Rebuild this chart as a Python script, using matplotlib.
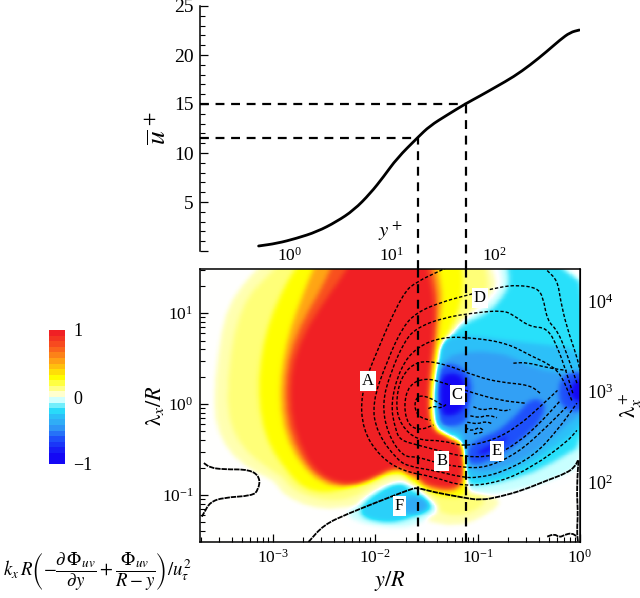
import numpy as np
import matplotlib
matplotlib.use('Agg')
import matplotlib.pyplot as plt
from matplotlib.path import Path
from matplotlib.patches import PathPatch
from matplotlib.colors import LinearSegmentedColormap, Normalize
from matplotlib.cm import ScalarMappable
from matplotlib.ticker import MultipleLocator

plt.rcParams['font.family'] = ['Liberation Serif', 'DejaVu Serif']
plt.rcParams['mathtext.fontset'] = 'stix'

RE_X = 10 ** 2.836   # y+ = y/R * RE_X
RE_L = 10 ** 2.865   # lambda+ = lambda/R * RE_L

# mean velocity profile, log10(y+) and u+
logyp = [-0.30, -0.12, 0.07, 0.27, 0.46, 0.63, 0.79, 0.92, 1.05, 1.254, 1.37, 1.54, 1.72, 1.86, 2.02, 2.19, 2.35, 2.51, 2.64, 2.74, 2.83]
uplus = [0.51, 0.78, 1.29, 1.97, 2.99, 4.18, 5.88, 7.59, 9.46, 11.6, 12.76, 13.88, 15.03, 15.82, 16.77, 17.79, 18.98, 20.34, 21.53, 22.31, 22.55]

# the two marked wall distances
mark_yp = [18.0, 52.7]
mark_u = [11.5, 15.0]

# flood levels, all as (log10(y/R), log10(lambda/R))
pos_05 = [(-3.05, 1.6), (-3.14, 1.49), (-3.31, 1.29), (-3.46, 1.00), (-3.53, .56), (-3.57, .01), (-3.53, -.32), (-3.38, -.58), (-3.15, -.76), (-2.97, -.84), (-2.92, -.97), (-2.70, -1.11), (-2.44, -1.16), (-2.21, -1.11), (-1.75, -1.17), (-1.43, -1.31), (-1.17, -1.34), (-.95, -1.24), (-.75, -1.08), (-.88, -1.01), (-1.10, -.95), (-1.14, -.73), (-1.14, -.51), (-1.36, -.34), (-1.44, -.07), (-1.43, .30), (-1.36, .59), (-1.20, .92), (-.91, 1.14), (-.81, 1.33), (-.88, 1.49), (-.85, 1.6)]
pos_15 = [(-2.9, 1.6), (-2.97, 1.49), (-3.20, 1.25), (-3.33, .98), (-3.41, .56), (-3.45, .01), (-3.39, -.29), (-3.27, -.51), (-3.04, -.71), (-2.89, -.81), (-2.83, -.92), (-2.63, -1.03), (-2.39, -1.07), (-2.19, -1.02), (-2.03, -.90), (-1.85, -.79), (-1.71, -.79), (-1.61, -.91), (-1.46, -1.11), (-1.36, -1.20), (-1.17, -1.24), (-.99, -1.15), (-.90, -1.06), (-1.07, -.95), (-1.14, -.73), (-1.15, -.51), (-1.36, -.36), (-1.43, -.07), (-1.42, .30), (-1.35, .59), (-1.19, .90), (-.97, 1.11), (-.88, 1.31), (-.93, 1.49), (-.9, 1.6)]
pos_30 = [(-2.7, 1.6), (-2.78, 1.49), (-2.92, 1.22), (-3.05, .85), (-3.12, .48), (-3.14, .12), (-3.10, -.25), (-2.99, -.54), (-2.86, -.73), (-2.73, -.91), (-2.53, -.98), (-2.34, -.95), (-2.08, -.87), (-1.88, -.76), (-1.73, -.76), (-1.66, -.84), (-1.59, -.87), (-1.43, -1.00), (-1.30, -1.03), (-1.12, -1.02), (-1.10, -.91), (-1.12, -.47), (-1.27, -.36), (-1.43, -.29), (-1.45, -.07), (-1.43, .30), (-1.38, .56), (-1.27, .81), (-1.17, 1.07), (-1.14, 1.29), (-1.15, 1.49), (-1.15, 1.6)]
pos_55 = [(-2.55, 1.6), (-2.60, 1.49), (-2.70, 1.22), (-2.82, .85), (-2.90, .48), (-2.93, .12), (-2.90, -.25), (-2.78, -.58), (-2.58, -.84), (-2.34, -.93), (-2.08, -.86), (-1.88, -.75), (-1.73, -.73), (-1.66, -.80), (-1.63, -.80), (-1.53, -.91), (-1.34, -.97), (-1.14, -.95), (-1.12, -.47), (-1.20, -.37), (-1.43, -.31), (-1.46, -.07), (-1.44, .30), (-1.41, .56), (-1.36, .96), (-1.34, 1.22), (-1.39, 1.49), (-1.38, 1.6)]
pos_80 = [(-2.40, 1.6), (-2.43, 1.49), (-2.55, 1.22), (-2.74, .85), (-2.85, .48), (-2.88, .12), (-2.85, -.25), (-2.72, -.60), (-2.54, -.82), (-2.30, -.91), (-2.06, -.85), (-1.87, -.72), (-1.73, -.71), (-1.67, -.78), (-1.60, -.78), (-1.53, -.89), (-1.34, -.95), (-1.16, -.93), (-1.13, -.80), (-1.13, -.52), (-1.19, -.39), (-1.43, -.31), (-1.47, -.10), (-1.47, .2), (-1.45, .45), (-1.42, .80), (-1.39, 1.1), (-1.41, 1.3), (-1.44, 1.49), (-1.44, 1.6)]
pos_100 = [(-2.23, 1.6), (-2.27, 1.49), (-2.44, 1.22), (-2.66, .85), (-2.80, .48), (-2.83, .12), (-2.80, -.25), (-2.66, -.62), (-2.50, -.81), (-2.27, -.89), (-2.05, -.84), (-1.85, -.70), (-1.73, -.69), (-1.68, -.76), (-1.59, -.76), (-1.53, -.86), (-1.34, -.92), (-1.20, -.91), (-1.15, -.80), (-1.14, -.58), (-1.19, -.42), (-1.43, -.32), (-1.48, -.14), (-1.48, .12), (-1.46, .37), (-1.43, .63), (-1.41, .92), (-1.43, 1.22), (-1.49, 1.49), (-1.49, 1.6)]

neg_05 = [(-.78, 1.6), (.1, 1.6), (.1, -.62), (-.19, -.80), (-.46, -.91), (-.78, -.98), (-1.04, -1.00), (-1.10, -.95), (-1.12, -.84), (-1.12, -.47), (-1.15, -.36), (-1.43, -.32), (-1.45, -.07), (-1.43, .30), (-1.36, .59), (-1.20, .90), (-.95, 1.03), (-.78, 1.25), (-.75, 1.36), (-.78, 1.49)]
neg_20 = [(-.68, 1.6), (.1, 1.6), (.1, -.40), (-.17, -.58), (-.46, -.76), (-.78, -.86), (-1.04, -.91), (-1.11, -.86), (-1.11, -.58), (-1.14, -.42), (-1.39, -.32), (-1.43, -.07), (-1.41, .30), (-1.35, .59), (-1.19, .87), (-.91, .98), (-.75, 1.18), (-.68, 1.33), (-.71, 1.49)]
neg_30 = [(-1.35, .74), (-1.10, .76), (-.71, .70), (-.32, .65), (.1, .6), (.1, -.2), (-.22, -.45), (-.49, -.66), (-.81, -.82), (-1.10, -.85), (-1.14, -.6), (-1.14, -.31), (-1.41, -.27), (-1.41, .12), (-1.39, .48)]
neg_45 = [(-1.36, .48), (-1.14, .59), (-.71, .56), (-.49, .41), (-.22, .34), (.1, .37), (.1, -.1), (0, -.10), (-.22, -.32), (-.49, -.58), (-.81, -.73), (-1.10, -.76), (-1.14, -.40), (-1.14, -.29), (-1.36, -.29), (-1.41, .12)]
neg_65_c = [(-1.38, .41), (-1.27, .46), (-1.10, .37), (-1.04, .19), (-1.10, -.07), (-1.10, -.21), (-1.30, -.26), (-1.39, -.21), (-1.39, .15)]
neg_65_e = [(-1.10, -.47), (-.95, -.36), (-.78, -.29), (-.58, -.07), (-.46, .08), (-.32, .01), (-.39, -.21), (-.61, -.43), (-.85, -.62), (-1.10, -.69)]
neg_65_r = [(-.17, .34), (.1, .4), (.1, -.1), (-.17, -.07), (-.22, .12)]
neg_90_c = [(-1.34, .34), (-1.14, .34), (-1.10, .08), (-1.15, -.10), (-1.34, -.15), (-1.37, .01), (-1.37, .19)]
neg_90_e = [(-1.04, -.54), (-.81, -.43), (-.68, -.32), (-.75, -.43), (-.93, -.56)]
neg_90_r = [(-.10, .19), (-.02, .29), (.1, .25), (.1, 0), (-.10, .04)]

f_05 = [(-2.29, -1.22), (-2.14, -1.31), (-1.85, -1.36), (-1.66, -1.35), (-1.59, -1.31), (-1.44, -1.24), (-1.36, -1.14), (-1.48, -1.02), (-1.59, -.91), (-1.73, -.84), (-1.85, -.87), (-2.05, -.98), (-2.21, -1.13)]
f_25 = [(-2.17, -1.20), (-2.05, -1.28), (-1.82, -1.31), (-1.63, -1.24), (-1.49, -1.19), (-1.43, -1.13), (-1.53, -1.02), (-1.66, -.95), (-1.73, -.87), (-1.88, -.91), (-2.08, -1.06)]
f_40 = [(-1.77, -1.11), (-1.68, -1.02), (-1.56, -1.02), (-1.46, -1.11), (-1.56, -1.20), (-1.71, -1.20)]

# paint order: level and its outlines
flood = [(0.08, [pos_05]), (0.15, [pos_15]), (0.30, [pos_30]), (0.55, [pos_55]), (0.80, [pos_80]), (1.0, [pos_100]),
         (-0.05, [neg_05]), (-0.20, [neg_20]), (-0.30, [neg_30]), (-0.45, [neg_45]),
         (-0.65, [neg_65_c, neg_65_e, neg_65_r]), (-0.90, [neg_90_c, neg_90_e, neg_90_r]),
         (-0.05, [f_05]), (-0.25, [f_25]), (-0.40, [f_40])]

# dashed contours of the premultiplied spectrum
c1 = [(-1.25, 1.53), (-1.36, 1.47), (-1.59, 1.35), (-1.73, 1.22), (-1.98, .59), (-2.14, .12), (-2.12, -.29), (-1.95, -.58), (-1.73, -.74), (-1.43, -.80), (-1.14, -.91), (-.78, -.86), (-.46, -.69), (-.13, -.42), (-.03, -.29)]
c2 = [(-.03, .23), (-.13, .56), (-.22, .81), (-.32, .92), (-.36, 1.18), (-.42, 1.28), (-.61, 1.31), (-.78, 1.29), (-1.10, 1.20), (-1.36, 1.12), (-1.59, 1.01), (-1.73, .85), (-1.88, .48), (-2.03, .01), (-1.98, -.32), (-1.78, -.62), (-1.66, -.69), (-1.43, -.73), (-1.14, -.81), (-1.00, -.81), (-.78, -.76), (-.46, -.58), (-.22, -.29), (-.03, .01)]
c3 = [(-.07, .12), (-.13, .34), (-.22, .63), (-.32, .84), (-.49, .85), (-.65, .98), (-.75, 1.03), (-1.00, 1.01), (-1.34, .95), (-1.59, .84), (-1.71, .70), (-1.85, .34), (-1.93, .01), (-1.88, -.32), (-1.73, -.58), (-1.59, -.58), (-1.39, -.65), (-1.14, -.70), (-.91, -.70), (-.61, -.54), (-.36, -.29), (-.13, -.03)]
c4 = [(-.08, .04), (-.19, .34), (-.32, .45), (-.46, .52), (-.71, .67), (-1.04, .73), (-1.34, .74), (-1.59, .63), (-1.75, .41), (-1.85, .01), (-1.80, -.29), (-1.75, -.40), (-1.59, -.45), (-1.32, -.53), (-1.14, -.58), (-.85, -.58), (-.61, -.43), (-.39, -.21), (-.19, .04)]
c5 = [(-.39, .12), (-.49, .21), (-.78, .24), (-1.00, .30), (-1.34, .45), (-1.59, .48), (-1.75, .30), (-1.80, -.01), (-1.75, -.23), (-1.59, -.40), (-1.34, -.40), (-1.14, -.47), (-.85, -.40), (-.61, -.25), (-.39, -.03), (-.22, .15)]
c6 = [(-.54, .01), (-.78, .04), (-1.07, .13), (-1.32, .23), (-1.51, .29), (-1.67, .21), (-1.72, -.01), (-1.68, -.23), (-1.56, -.29), (-1.43, -.23)]
c7 = [(-1.35, -.01), (-1.46, .07), (-1.58, .10), (-1.62, -.01), (-1.58, -.14), (-1.46, -.18)]
c8 = [(-.65, .45), (-.52, .46), (-.32, .40), (-.13, .37)]
c9 = [(-.32, 1.47), (-.22, 1.36), (-.19, 1.14), (-.13, .85), (-.03, .52), (0.0, .37)]
c_tangle1 = [(-1.04, -.03), (-.95, -.07), (-.85, -.04), (-.75, -.08), (-.68, -.06)]
c_tangle2 = [(-1.07, -.13), (-.98, -.15), (-.90, -.12), (-.81, -.15)]
c_tangle3 = [(-1.10, -.20), (-1.00, -.22), (-.92, -.19), (-.85, -.22)]
c_tangle4 = [(-1.12, -.26), (-1.05, -.30), (-.98, -.25), (-.93, -.31), (-1.05, -.33)]
c_tangle5 = [(-1.48, -.05), (-1.42, -.02), (-1.36, -.05), (-1.30, .0)]
contours = [c1, c2, c3, c4, c5, c6, c7, c8, c9, c_tangle1, c_tangle2, c_tangle3, c_tangle4, c_tangle5]

zero_left = [(-3.67, -.65), (-3.61, -.70), (-3.48, -.72), (-3.22, -.72), (-3.12, -.81), (-3.14, -.95), (-3.20, -1.01), (-3.48, -1.03), (-3.61, -1.08), (-3.67, -1.20), (-3.69, -1.24)]
zero_main = [(-2.65, -1.52), (-2.50, -1.33), (-2.27, -1.21), (-1.98, -1.08), (-1.66, -.94), (-1.59, -.92), (-1.43, -.97), (-1.14, -1.03), (-.97, -1.06), (-.78, -1.02), (-.56, -.95), (-.32, -.84), (-.13, -.76), (-.05, -.69), (-.02, -.62)]
zero_right = [(-.015, -.62), (-.025, -.80), (-.03, -1.0), (-.02, -1.2), (-.03, -1.4), (-.02, -1.52)]
zero_floor = [(-.32, -1.46), (-.25, -1.43), (-.20, -1.47), (-.15, -1.44), (-.08, -1.42), (-.03, -1.46)]
zero_lines = [zero_left, zero_main, zero_right, zero_floor]

# region letters
region_names = ['A', 'B', 'C', 'D', 'E', 'F']
region_x = [-2.07, -1.35, -1.20, -.98, -.81, -1.76]
region_y = [.25, -.63, .10, 1.17, -.52, -1.12]

cmap = LinearSegmentedColormap.from_list('flood', [
    (0.0, '#1408f5'), (0.05, '#1408f5'), (0.175, '#1e50fa'), (0.275, '#32a0f5'), (0.35, '#2cc0f8'), (0.40, '#28e0fa'),
    (0.475, '#c8ffff'), (0.5, '#ffffff'), (0.525, '#ffffc8'), (0.575, '#ffff78'), (0.65, '#ffff00'),
    (0.775, '#ffa514'), (0.90, '#f8501e'), (1.0, '#f02024')], N=1024)
norm = Normalize(-1, 1)


def curve_parts(pts, closed=False):
    # quadratic pieces through the midpoints
    p = np.asarray(pts, dtype=float)
    if closed:
        mid = (p + np.roll(p, -1, axis=0)) / 2
        verts = [mid[-1]]
        codes = [Path.MOVETO]
        for i in range(len(p)):
            verts += [p[i], mid[i]]
            codes += [Path.CURVE3, Path.CURVE3]
    else:
        mid = (p[:-1] + p[1:]) / 2
        verts = [p[0], mid[0]]
        codes = [Path.MOVETO, Path.LINETO]
        for i in range(1, len(p) - 1):
            verts += [p[i], mid[i]]
            codes += [Path.CURVE3, Path.CURVE3]
        verts.append(p[-1])
        codes.append(Path.LINETO)
    return np.array(verts), codes


def blur(a, sigma):
    r = int(3 * sigma)
    k = np.exp(-0.5 * (np.arange(-r, r + 1) / sigma) ** 2)
    k /= k.sum()
    for axis in (0, 1):
        pad = [(r, r) if i == axis else (0, 0) for i in (0, 1)]
        a = np.apply_along_axis(lambda m: np.convolve(m, k, 'valid'), axis, np.pad(a, pad, mode='edge'))
    return a


# paint the levels on a fine grid and soften them
xg = np.linspace(-3.8, 0.1, 780)
yg = np.linspace(-1.65, 1.6, 650)
XX, YY = np.meshgrid(xg, yg)
grid_pts = np.column_stack([XX.ravel(), YY.ravel()])
field = np.zeros(XX.size)
for level, shapes in flood:
    for shape in shapes:
        v, co = curve_parts(shape, closed=True)
        field[Path(v, co).contains_points(grid_pts)] = level
field = blur(field.reshape(XX.shape), 5)

W, H = 640, 598
fig = plt.figure(figsize=(W / 100, H / 100), dpi=100)

# lower map
ax = fig.add_axes([200.3 / W, (H - 541.7) / H, 379.7 / W, 272.4 / H])
ax.set_xscale('log')
ax.set_yscale('log')
ax.pcolormesh(10 ** xg, 10 ** yg, field, cmap=cmap, norm=norm, shading='auto', zorder=1)
ax.set_xlim(10 ** -3.705, 1)
ax.set_ylim(10 ** -1.516, 10 ** 1.484)

for c in contours:
    v, co = curve_parts(c)
    ax.add_patch(PathPatch(Path(10 ** v, co), fc='none', ec='black', lw=1.0, ls=(0, (2.4, 1.4)), zorder=3))
for c in zero_lines:
    v, co = curve_parts(c)
    ax.add_patch(PathPatch(Path(10 ** v, co), fc='none', ec='black', lw=1.3, ls=(0, (3, 0.5)), zorder=3))

for name, x, y in zip(region_names, region_x, region_y):
    ax.text(10 ** x, 10 ** y, name, fontsize=12, ha='center', va='center', zorder=5,
            bbox=dict(fc='white', ec='none', pad=1.5))

ax.tick_params(which='major', direction='in', length=6, width=0.9, top=False, right=False, labelsize=12.5, pad=5)
ax.tick_params(which='minor', direction='in', length=3.5, width=0.8, top=False, right=False)
for s in ax.spines.values():
    s.set_linewidth(1.1)
ax.set_xlabel(r'$y/R$', fontsize=16, labelpad=2)
ax.set_ylabel(r'$\mathrm{\lambda}_x/R$', fontsize=16, labelpad=-3)

top = ax.secondary_xaxis('top', functions=(lambda v: v * RE_X, lambda v: v / RE_X))
top.tick_params(which='major', direction='in', length=6, width=0.9, labelsize=12.5, pad=3)
top.tick_params(which='minor', direction='in', length=3.5, width=0.8)
right = ax.secondary_yaxis('right', functions=(lambda v: v * RE_L, lambda v: v / RE_L))
right.tick_params(which='major', direction='in', length=6, width=0.9, labelsize=13, pad=5)
right.tick_params(which='minor', direction='in', length=3.5, width=0.8)
right.set_ylabel(r'$\mathrm{\lambda}_x^+$', fontsize=16, labelpad=3)

for yp in mark_yp:
    ax.plot([yp / RE_X] * 2, ax.get_ylim(), color='black', lw=1.6, ls=(0, (4, 3)), zorder=4)

# upper profile
ax_u = fig.add_axes([200.3 / W, (H - 251) / H, 379.7 / W, 245 / H])
ax_u.set_xscale('log')
ax_u.set_xlim(10 ** -3.705 * RE_X, RE_X)
ax_u.set_ylim(0, 25)
ax_u.patch.set_alpha(0)
v, co = curve_parts(list(zip(logyp, uplus)))
ax_u.add_patch(PathPatch(Path(np.column_stack([10 ** v[:, 0], v[:, 1]]), co), fc='none', ec='black', lw=2.0, capstyle='round'))

for s in ['top', 'right', 'bottom']:
    ax_u.spines[s].set_visible(False)
ax_u.spines['left'].set_linewidth(1.1)
ax_u.xaxis.set_visible(False)
ax_u.set_yticks([0, 5, 10, 15, 20, 25])
ax_u.set_yticklabels(['', '5', '10', '15', '20', '25'])
ax_u.yaxis.set_minor_locator(MultipleLocator(1))
ax_u.tick_params(which='major', axis='y', direction='in', length=6, width=0.9, labelsize=14, pad=5)
ax_u.tick_params(which='minor', axis='y', direction='in', length=3.5, width=0.8)
ax_u.set_ylabel(r'$\overline{u}^{\,+}$', fontsize=20, labelpad=1)

gap_u = -18 / 9.8
for yp, u in zip(mark_yp, mark_u):
    ax_u.plot([yp, yp], [gap_u, u], color='black', lw=1.6, ls=(0, (4, 3)), clip_on=False)
    ax_u.plot([ax_u.get_xlim()[0], yp], [u, u], color='black', lw=1.6, ls=(0, (4, 3)))
ax_u.text(0.5, 0.08, r'$y^+$', transform=ax_u.transAxes, fontsize=15, ha='center', va='center')

# colour bar
cax = fig.add_axes([49 / W, (H - 464) / H, 16 / W, 134 / H])
cb = fig.colorbar(ScalarMappable(norm=norm, cmap=cmap.resampled(24)), cax=cax, ticks=[-1, 0, 1])
cb.ax.set_yticklabels(['\u22121', '0', '1'], fontsize=13)
cb.ax.tick_params(length=0, pad=6)
cb.outline.set_visible(False)

fig.text(97 / W, 1 - 572 / H,
         r'$k_x\,R\left(-\dfrac{\partial\,\Phi_{uv}}{\partial y}+\dfrac{\Phi_{uv}}{R-y}\right)/u_\tau^2$',
         fontsize=13.5, ha='center', va='center')

fig.savefig('out.png', dpi=100)
